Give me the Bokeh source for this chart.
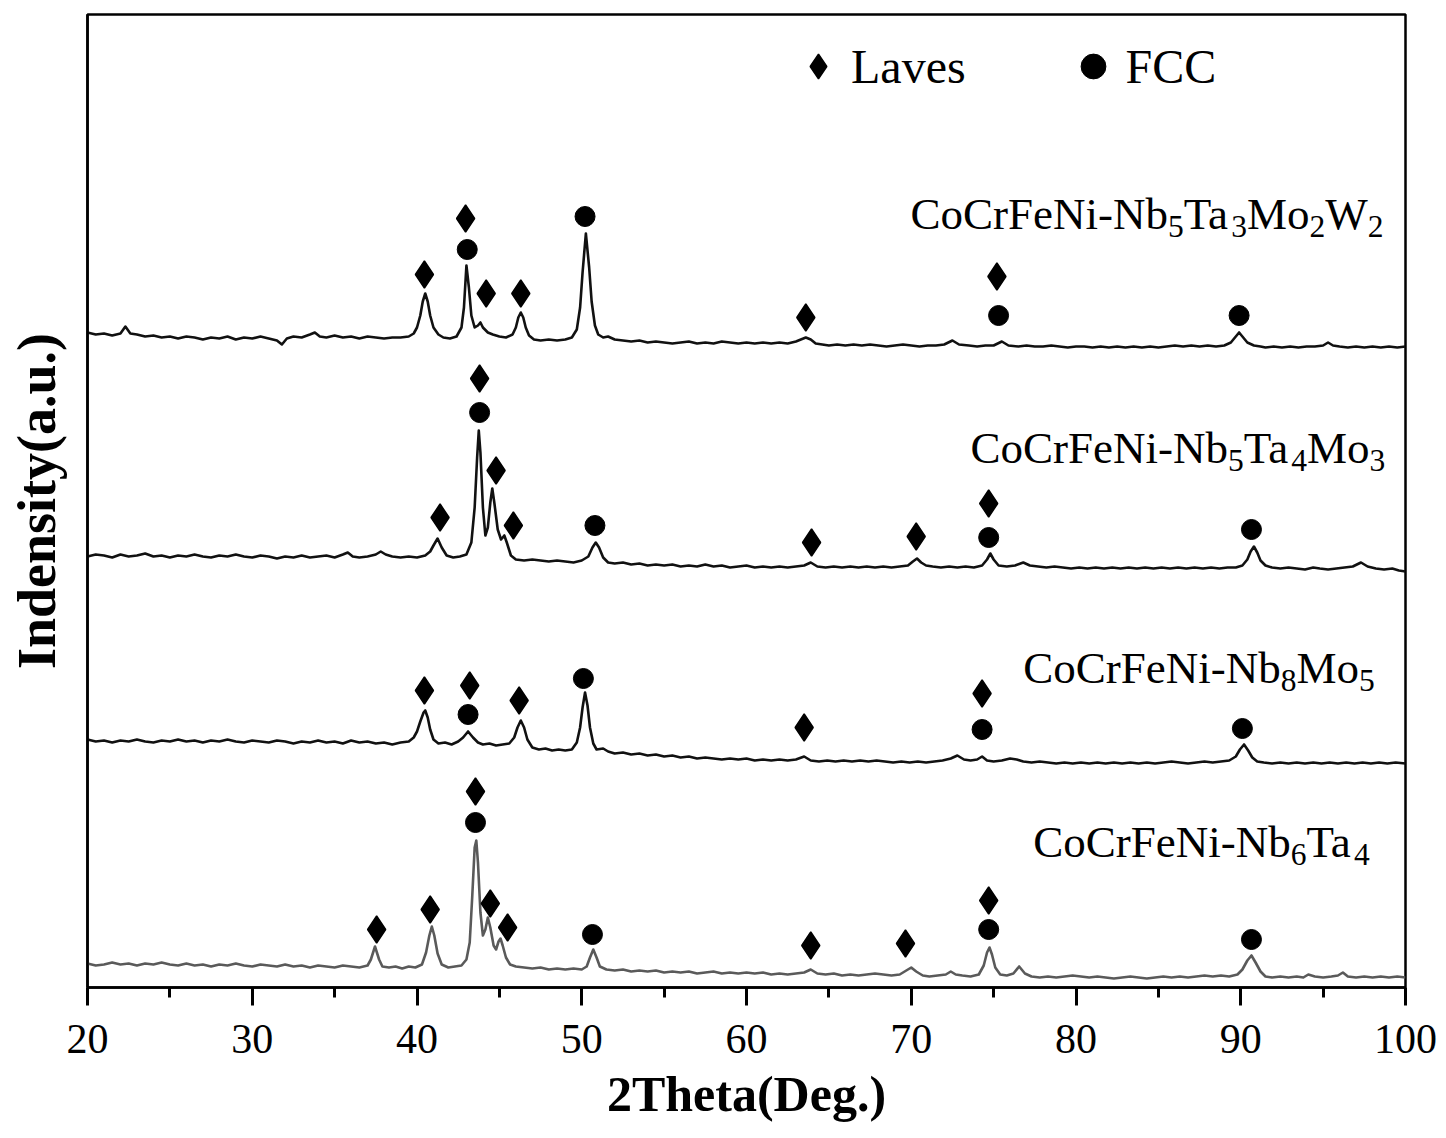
import re
from bokeh.plotting import figure
from bokeh.models import (ColumnDataSource, FixedTicker, Legend, LegendItem, Range1d)
from bokeh.core.properties import value, field
from bokeh.embed import file_html
from bokeh.resources import INLINE

# ---------------- data (2theta, intensity a.u.) ----------------
curve_w2 = [(20.0,35),(20.5,33),(21.0,34),(21.5,32),(22.0,34),(22.3,41),(22.6,34),(23.0,33),(23.5,31),(24.0,32),
    (24.5,30),(25.0,31),(25.5,29),(26.0,31),(26.5,30),(27.0,28),(27.5,30),(28.0,29),(28.5,31),(29.0,28),(29.5,30),
    (30.0,29),(30.5,31),(31.0,29),(31.5,27),(31.8,23),(32.1,29),(32.5,31),(33.0,30),(33.5,33),(33.8,35),(34.1,31),
    (34.5,30),(35.0,32),(35.5,30),(36.0,31),(36.5,29),(37.0,31),(37.5,30),(38.0,29),(38.5,30),(39.0,30),(39.5,31),
    (39.8,34),(40.0,40),(40.2,52),(40.35,66),(40.5,74),(40.65,66),(40.8,52),(41.0,40),(41.3,33),(41.6,30),(42.0,29),
    (42.4,31),(42.7,40),(42.85,60),(43.0,102),(43.15,80),(43.3,52),(43.5,40),(43.7,42),(43.85,45),(44.0,40),(44.3,35),
    (44.6,33),(45.0,31),(45.4,30),(45.8,33),(46.0,40),(46.15,50),(46.3,55),(46.45,50),(46.6,40),(46.8,32),(47.1,28),
    (47.5,27),(48.0,28),(48.5,27),(49.0,28),(49.4,30),(49.7,38),(49.9,60),(50.05,95),(50.25,134),(50.45,100),(50.6,66),
    (50.8,42),(51.0,33),(51.3,30),(51.6,31),(52.0,28),(52.5,27),(53.0,26),(53.5,27),(54.0,25),(54.5,26),(55.0,25),
    (55.5,24),(56.0,25),(56.5,26),(57.0,24),(57.5,25),(58.0,24),(58.5,26),(59.0,25),(59.5,24),(60.0,25),(60.5,24),
    (61.0,25),(61.5,24),(62.0,25),(62.5,24),(63.0,26),(63.3,28),(63.6,30),(63.9,28),(64.2,24),(64.6,23),(65.0,22),
    (65.5,23),(66.0,22),(66.5,23),(67.0,22),(67.5,23),(68.0,22),(68.5,21),(69.0,22),(69.5,23),(70.0,22),(70.5,21),
    (71.0,22),(71.5,22),(72.0,23),(72.5,27),(72.9,23),(73.5,22),(74.0,21),(74.5,22),(75.0,22),(75.5,26),(75.9,22),
    (76.5,21),(77.0,22),(77.5,21),(78.0,21),(78.5,22),(79.0,21),(79.5,20),(80.0,21),(80.5,21),(81.0,20),(81.5,21),
    (82.0,20),(82.5,21),(83.0,20),(83.5,21),(84.0,20),(84.5,21),(85.0,20),(85.5,21),(86.0,22),(86.5,21),(87.0,22),
    (87.5,21),(88.0,22),(88.5,21),(89.0,22),(89.4,25),(89.7,31),(89.9,35),(90.1,31),(90.4,25),(90.8,22),(91.2,21),
    (91.5,20),(92.0,21),(92.5,20),(93.0,21),(93.5,20),(94.0,21),(94.5,21),(95.0,22),(95.3,25),(95.6,22),(96.0,21),
    (96.5,20),(97.0,21),(97.5,20),(98.0,21),(98.5,20),(99.0,21),(99.5,20),(100.0,21)]

curve_mo3 = [(20.0,31),(20.5,33),(21.0,32),(21.5,30),(22.0,33),(22.5,31),(23.0,32),(23.5,34),(24.0,31),(24.5,32),
    (25.0,30),(25.5,32),(26.0,31),(26.5,33),(27.0,31),(27.5,30),(28.0,32),(28.5,31),(29.0,33),(29.5,31),(30.0,30),
    (30.5,32),(31.0,31),(31.5,29),(32.0,31),(32.5,30),(33.0,32),(33.5,30),(34.0,31),(34.5,32),(35.0,30),(35.5,33),
    (35.8,35),(36.1,31),(36.5,30),(37.0,31),(37.5,33),(37.8,36),(38.1,33),(38.5,31),(39.0,30),(39.5,31),(40.0,30),
    (40.5,32),(40.8,36),(41.0,42),(41.25,49),(41.5,40),(41.8,32),(42.2,30),(42.6,31),(43.0,33),(43.3,45),(43.5,80),
    (43.65,130),(43.75,157),(43.85,135),(44.0,80),(44.15,52),(44.3,60),(44.45,85),(44.57,99),(44.7,84),(44.9,58),
    (45.1,48),(45.3,52),(45.45,45),(45.7,32),(46.0,28),(46.5,27),(47.0,28),(47.5,27),(48.0,26),(48.5,27),(49.0,26),
    (49.5,25),(50.0,27),(50.4,31),(50.65,40),(50.85,45),(51.05,40),(51.3,30),(51.6,25),(52.0,24),(52.5,25),(53.0,23),
    (53.5,24),(54.0,22),(54.5,23),(55.0,22),(55.5,23),(56.0,21),(56.5,22),(57.0,21),(57.5,23),(58.0,21),(58.5,22),
    (59.0,20),(59.5,21),(60.0,22),(60.5,20),(61.0,21),(61.5,20),(62.0,21),(62.5,20),(63.0,21),(63.5,22),(63.9,25),
    (64.3,21),(64.8,20),(65.3,21),(65.8,20),(66.3,21),(66.8,20),(67.3,21),(67.8,20),(68.3,21),(68.8,20),(69.3,21),
    (69.8,22),(70.1,26),(70.35,29),(70.6,25),(70.9,22),(71.3,21),(71.8,20),(72.3,21),(72.8,20),(73.3,21),(73.8,20),
    (74.3,22),(74.6,28),(74.8,34),(75.0,28),(75.3,22),(75.8,21),(76.3,22),(76.8,25),(77.2,22),(77.7,21),(78.2,20),
    (78.7,21),(79.2,20),(79.7,19),(80.2,20),(80.7,19),(81.2,20),(81.7,19),(82.2,20),(82.7,19),(83.2,20),(83.7,19),
    (84.2,20),(84.7,19),(85.2,20),(85.7,19),(86.2,20),(86.7,19),(87.2,20),(87.7,19),(88.2,20),(88.7,19),(89.2,20),
    (89.7,20),(90.1,22),(90.4,28),(90.6,36),(90.8,41),(91.0,35),(91.2,27),(91.5,22),(91.9,20),(92.4,19),(92.9,20),
    (93.4,19),(93.9,18),(94.4,20),(94.8,19),(95.3,18),(95.8,19),(96.3,20),(96.8,21),(97.3,25),(97.7,21),(98.2,19),
    (98.7,18),(99.2,19),(99.6,17),(100.0,16)]

curve_mo5 = [(20.0,48),(20.5,46),(21.0,47),(21.5,45),(22.0,47),(22.5,46),(23.0,48),(23.5,46),(24.0,45),(24.5,47),
    (25.0,46),(25.5,48),(26.0,46),(26.5,47),(27.0,45),(27.5,47),(28.0,46),(28.5,48),(29.0,46),(29.5,45),(30.0,47),
    (30.5,46),(31.0,45),(31.5,47),(32.0,46),(32.5,44),(33.0,46),(33.5,45),(34.0,47),(34.5,45),(35.0,46),(35.5,44),
    (36.0,47),(36.5,45),(37.0,46),(37.5,44),(38.0,45),(38.5,43),(39.0,45),(39.5,46),(39.8,50),(40.0,56),(40.2,66),
    (40.4,75),(40.5,77),(40.65,70),(40.8,58),(41.0,48),(41.3,44),(41.7,45),(42.1,43),(42.5,46),(42.8,50),(43.1,56),
    (43.4,50),(43.7,45),(44.0,43),(44.4,44),(44.8,42),(45.2,43),(45.6,44),(45.9,50),(46.1,60),(46.3,67),(46.5,60),
    (46.7,48),(47.0,40),(47.4,38),(47.8,39),(48.2,37),(48.6,38),(49.0,37),(49.4,38),(49.7,45),(49.9,60),(50.05,80),
    (50.2,95),(50.35,82),(50.5,60),(50.7,44),(50.9,38),(51.3,39),(51.6,36),(52.0,34),(52.5,35),(53.0,33),(53.5,34),
    (54.0,32),(54.5,33),(55.0,31),(55.5,32),(56.0,30),(56.5,31),(57.0,29),(57.5,30),(58.0,29),(58.5,28),(59.0,29),
    (59.5,28),(60.0,29),(60.5,27),(61.0,28),(61.5,27),(62.0,28),(62.5,27),(63.0,28),(63.5,31),(63.9,27),(64.4,26),
    (64.9,27),(65.4,26),(65.9,27),(66.4,26),(66.9,27),(67.4,26),(67.9,27),(68.4,26),(68.9,25),(69.4,26),(69.9,25),
    (70.4,26),(70.9,25),(71.4,26),(71.9,27),(72.4,29),(72.8,32),(73.2,28),(73.6,27),(74.0,28),(74.3,31),(74.6,27),
    (75.0,26),(75.5,27),(76.0,29),(76.4,28),(76.8,26),(77.3,25),(77.8,26),(78.3,25),(78.8,24),(79.3,25),(79.8,24),
    (80.3,25),(80.8,24),(81.3,25),(81.8,24),(82.3,25),(82.8,24),(83.3,25),(83.8,24),(84.3,25),(84.8,24),(85.3,25),
    (85.8,26),(86.3,25),(86.8,24),(87.3,25),(87.8,26),(88.3,25),(88.8,26),(89.3,27),(89.7,31),(89.95,38),(90.2,43),
    (90.45,37),(90.7,30),(91.0,26),(91.4,25),(91.9,24),(92.4,25),(92.9,24),(93.4,25),(93.9,24),(94.4,25),(94.9,24),
    (95.4,25),(95.9,24),(96.4,25),(96.9,24),(97.4,25),(97.9,24),(98.4,25),(98.9,24),(99.4,25),(100.0,24)]

curve_ta4 = [(20.0,24),(20.5,22),(21.0,23),(21.5,25),(22.0,23),(22.5,24),(23.0,22),(23.5,24),(24.0,23),(24.5,25),
    (25.0,23),(25.5,22),(26.0,24),(26.5,22),(27.0,23),(27.5,21),(28.0,23),(28.5,22),(29.0,24),(29.5,22),(30.0,21),
    (30.5,23),(31.0,22),(31.5,21),(32.0,23),(32.5,21),(33.0,22),(33.5,20),(34.0,22),(34.5,21),(35.0,20),(35.5,22),
    (36.0,21),(36.5,20),(37.0,22),(37.2,28),(37.45,41),(37.7,28),(37.9,21),(38.3,20),(38.7,21),(39.1,19),(39.5,21),
    (39.9,20),(40.3,23),(40.55,35),(40.75,52),(40.9,61),(41.05,52),(41.25,34),(41.5,23),(41.9,20),(42.3,21),(42.7,22),
    (43.0,28),(43.2,45),(43.35,90),(43.5,140),(43.6,147),(43.7,125),(43.85,75),(44.0,52),(44.15,58),(44.3,70),
    (44.45,60),(44.65,42),(44.8,38),(44.95,46),(45.07,49),(45.2,42),(45.4,30),(45.65,23),(46.0,21),(46.5,20),(47.0,19),
    (47.5,20),(48.0,18),(48.5,19),(49.0,18),(49.5,19),(50.0,18),(50.3,21),(50.5,30),(50.7,38),(50.9,30),(51.1,21),
    (51.5,18),(52.0,17),(52.5,18),(53.0,16),(53.5,17),(54.0,16),(54.5,17),(55.0,15),(55.5,16),(56.0,15),(56.5,16),
    (57.0,14),(57.5,15),(58.0,16),(58.5,14),(59.0,15),(59.5,14),(60.0,15),(60.5,14),(61.0,15),(61.5,13),(62.0,14),
    (62.5,13),(63.0,14),(63.5,15),(63.9,18),(64.3,14),(64.8,13),(65.3,14),(65.8,12),(66.3,13),(66.8,12),(67.3,13),
    (67.8,14),(68.3,13),(68.8,12),(69.3,13),(69.7,17),(70.0,20),(70.3,16),(70.7,12),(71.1,11),(71.6,12),(72.1,13),
    (72.4,16),(72.7,13),(73.1,12),(73.6,11),(74.1,13),(74.4,22),(74.6,35),(74.75,40),(74.9,33),(75.1,20),(75.4,13),
    (75.8,12),(76.2,14),(76.55,21),(76.9,14),(77.3,11),(77.8,10),(78.3,11),(78.8,10),(79.3,11),(79.8,12),(80.3,11),
    (80.8,10),(81.3,11),(81.8,10),(82.3,9),(82.8,10),(83.3,11),(83.8,10),(84.3,9),(84.8,10),(85.3,11),(85.8,10),
    (86.3,11),(86.8,10),(87.3,11),(87.8,12),(88.3,11),(88.8,12),(89.3,11),(89.8,13),(90.1,18),(90.4,27),(90.65,32),
    (90.9,25),(91.2,16),(91.5,11),(91.9,10),(92.4,11),(92.9,10),(93.4,11),(93.8,10),(94.1,13),(94.5,11),(95.0,10),
    (95.5,11),(95.9,12),(96.2,15),(96.5,11),(97.0,10),(97.5,11),(98.0,10),(98.5,11),(99.0,10),(99.5,11),(100.0,10)]

# phase marks (2theta, height a.u. above the curve's own zero)
laves_w2 = [(40.45,93),(42.95,149),(44.2,74),(46.3,74),(63.6,50),(75.2,91)]
fcc_w2 = [(43.05,118),(50.2,151),(75.3,52),(89.9,52)]
laves_mo3 = [(43.8,209),(44.8,117),(41.4,70),(45.85,62),(63.95,45),(70.3,51),(74.7,84)]
fcc_mo3 = [(43.8,175),(50.8,62),(74.7,50),(90.65,58)]
laves_mo5 = [(40.45,97),(43.2,102),(46.2,87),(63.5,60),(74.3,94)]
fcc_mo5 = [(43.1,73),(50.1,109),(74.3,58),(90.1,59)]
laves_ta4 = [(37.55,58),(40.8,78),(43.55,196),(44.45,84),(45.5,60),(63.9,42),(69.65,44),(74.7,87)]
fcc_ta4 = [(43.55,165),(50.65,53),(74.7,58),(90.65,48)]

sample_names = ["CoCrFeNi-Nb5Ta3Mo2W2", "CoCrFeNi-Nb5Ta4Mo3", "CoCrFeNi-Nb8Mo5", "CoCrFeNi-Nb6Ta4"]
stack_offsets = [620, 400, 200, 0]
x_ticks = [20, 30, 40, 50, 60, 70, 80, 90, 100]
x_minor_ticks = [25, 35, 45, 55, 65, 75, 85, 95]

# ---------------- styling / layout ----------------
curves = [curve_w2, curve_mo3, curve_mo5, curve_ta4]
laves = [laves_w2, laves_mo3, laves_mo5, laves_ta4]
fccs = [fcc_w2, fcc_mo3, fcc_mo5, fcc_ta4]
line_colors = ["#111111", "#111111", "#111111", "#5a5a5a"]
label_anchor = [(69.95, 774), (73.6, 540), (76.8, 320), (77.4, 146)]
SERIF = "Liberation Serif"

p = figure(width=1446, height=1138, x_range=Range1d(20, 100), y_range=Range1d(0, 973),
           output_backend="svg", toolbar_location=None,
           min_border_left=87, min_border_right=41, min_border_top=14, min_border_bottom=151)
p.grid.visible = False
p.background_fill_color = "white"
p.border_fill_color = "white"
p.outline_line_color = "black"
p.outline_line_width = 2.5

for pts, off, col in zip(curves, stack_offsets, line_colors):
    xs = [a for a, b in pts]
    ys = [b + off for a, b in pts]
    p.line(xs, ys, line_color=col, line_width=2.6, line_join="round")

lx, ly, fx, fy = [], [], [], []
for lv, fc, off in zip(laves, fccs, stack_offsets):
    for a, b in lv:
        lx.append(a); ly.append(b + off)
    for a, b in fc:
        fx.append(a); fy.append(b + off)
laves_r = p.scatter(x=lx, y=ly, marker="diamond", size=27, fill_color="black", line_color="black", line_width=1.5)
fcc_r = p.scatter(x=fx, y=fy, marker="circle", size=20, fill_color="black", line_color="black", line_width=1)

# sample labels with subscripts
TW = {'C':667,'o':500,'r':333,'F':556,'e':444,'N':722,'i':278,'-':333,'b':500,'T':611,'a':444,'M':889,'W':944}
MAIN, SUB, SUB_DY = 45, 31.5, 13
tx, ty, tt, txo, tyo, tfs = [], [], [], [], [], []
for name, (ax, ay) in zip(sample_names, label_anchor):
    cur = 0.0
    for seg in re.findall(r"\d+|\D+", name):
        sub = seg.isdigit()
        size = SUB if sub else MAIN
        tx.append(ax); ty.append(ay); tt.append(seg)
        txo.append(cur); tyo.append(SUB_DY if sub else 0); tfs.append(f"{size}px")
        cur += sum(TW.get(c, 500) for c in seg) / 1000.0 * size
src = ColumnDataSource(dict(x=tx, y=ty, text=tt, xo=txo, yo=tyo, fs=tfs))
p.text(x="x", y="y", text="text", x_offset="xo", y_offset="yo", source=src,
       text_font=value(SERIF), text_font_size=field("fs"), text_color="black",
       text_align="left", text_baseline="alphabetic")

# axes
xa = p.xaxis[0]
xa.ticker = FixedTicker(ticks=x_ticks, minor_ticks=x_minor_ticks)
xa.axis_label = "2Theta(Deg.)"
xa.axis_label_text_font = SERIF
xa.axis_label_text_font_style = "bold"
xa.axis_label_text_font_size = "50px"
xa.axis_label_text_color = "black"
xa.axis_label_standoff = 10
xa.major_label_text_font = SERIF
xa.major_label_text_font_size = "42px"
xa.major_label_text_color = "black"
xa.major_label_standoff = 19
xa.axis_line_width = 2.5
xa.axis_line_color = "black"
xa.major_tick_out = 18
xa.major_tick_in = 0
xa.minor_tick_out = 10
xa.minor_tick_in = 0
xa.major_tick_line_width = 3
xa.minor_tick_line_width = 3
xa.major_tick_line_color = "black"
xa.minor_tick_line_color = "black"

ya = p.yaxis[0]
ya.ticker = FixedTicker(ticks=[])
ya.axis_label = "Indensity(a.u.)"
ya.axis_label_text_font = SERIF
ya.axis_label_text_font_style = "bold"
ya.axis_label_text_font_size = "54px"
ya.axis_label_text_color = "black"
ya.axis_label_standoff = 21
ya.axis_line_width = 2.5
ya.axis_line_color = "black"
ya.major_tick_out = 0
ya.major_tick_in = 0
ya.minor_tick_out = 0
ya.minor_tick_in = 0

legend = Legend(items=[LegendItem(label="Laves", renderers=[laves_r]),
                       LegendItem(label="FCC", renderers=[fcc_r])],
                orientation="horizontal", location=(700, 890),
                glyph_width=62, glyph_height=62, label_standoff=2, spacing=96,
                padding=0, margin=0, border_line_alpha=0, background_fill_alpha=0,
                label_text_font=SERIF, label_text_font_size="48px", label_text_color="black")
p.add_layout(legend)

open("out.html", "w").write(file_html(p, INLINE))
